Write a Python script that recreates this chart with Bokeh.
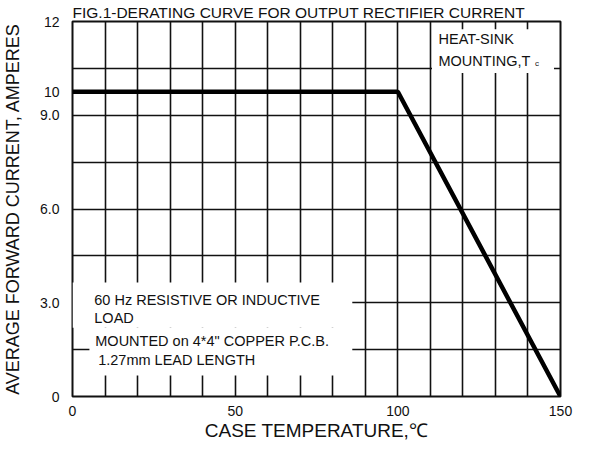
from bokeh.plotting import figure
from bokeh.models import FixedTicker, Label, Range1d
from bokeh.embed import file_html
from bokeh.resources import INLINE

# ---- data ----
temperature = [0, 100, 150]            # case temperature, deg C
current = [9.75, 9.75, 0]              # amperes (flat segment sits on the "10" tick mark)
x_ticks = [0, 50, 100, 150]
x_tick_labels = ["0", "50", "100", "150"]
y_ticks = [0, 3, 6, 9, 9.75, 12]
y_tick_labels = ["0", "3.0", "6.0", "9.0", "10", "12"]
x_grid = [0, 10, 20, 30, 40, 50, 60, 70, 80, 90, 100, 110, 120, 130, 140, 150]
y_grid = [0, 1.5, 3, 4.5, 6, 7.5, 9, 10.5, 12]

FONT = "Liberation Sans"

p = figure(width=581, height=443, output_backend="svg", toolbar_location=None,
           x_range=Range1d(0, 150), y_range=Range1d(0, 12),
           title="FIG.1-DERATING CURVE FOR OUTPUT RECTIFIER CURRENT",
           x_axis_label="CASE TEMPERATURE,℃",
           y_axis_label="AVERAGE FORWARD CURRENT, AMPERES",
           min_border_left=72, min_border_right=21, min_border_top=20, min_border_bottom=47)
p.background_fill_color = "white"
p.border_fill_color = "white"
p.outline_line_color = "#111111"
p.outline_line_width = 2

p.title.text_font = FONT
p.title.text_font_size = "15.5px"
p.title.text_font_style = "normal"
p.title.text_color = "#111111"
p.title.align = "left"
p.title.standoff = 2

# grids
p.xgrid.ticker = FixedTicker(ticks=x_grid)
p.ygrid.ticker = FixedTicker(ticks=y_grid)
for g in (p.xgrid, p.ygrid):
    g.grid_line_color = "#111111"
    g.grid_line_width = 1.6
    g.grid_line_alpha = 1.0

# axes
p.xaxis.ticker = FixedTicker(ticks=x_ticks)
p.xaxis.major_label_overrides = {float(t): l for t, l in zip(x_ticks, x_tick_labels)}
p.yaxis.ticker = FixedTicker(ticks=y_ticks)
p.yaxis.major_label_overrides = {float(t): l for t, l in zip(y_ticks, y_tick_labels)}
for ax in (p.xaxis, p.yaxis):
    ax.axis_line_color = None
    ax.major_tick_line_color = None
    ax.minor_tick_line_color = None
    ax.major_tick_out = 0
    ax.major_tick_in = 0
    ax.major_label_text_font = FONT
    ax.major_label_text_font_size = "14px"
    ax.major_label_text_color = "#111111"
    ax.axis_label_text_font = FONT
    ax.axis_label_text_font_style = "normal"
    ax.axis_label_text_color = "#111111"
p.xaxis.axis_label_text_font_size = "19px"
p.yaxis.axis_label_text_font_size = "18px"
p.xaxis.major_label_text_align = "left"
p.xaxis.major_label_standoff = 9
p.xaxis.axis_label_standoff = 1
p.yaxis.major_label_standoff = 13
p.yaxis.axis_label_standoff = 14

# white note boxes over the grid
p.quad(left=[0, 5.2, 110.5], right=[86, 86, 148], bottom=[2.2, 0.67, 10.35], top=[3.65, 2.2, 11.75],
       fill_color="white", line_color=None)

# derating curve
p.line(temperature, current, line_color="black", line_width=4.5)

def note(x, y, text, size="14.5px"):
    p.add_layout(Label(x=x, y=y, text=text, text_font=FONT, text_font_size=size,
                       text_color="#111111", text_baseline="middle", text_align="left"))

note(112.5, 11.43, "HEAT-SINK")
note(112.5, 10.73, "MOUNTING,T")
note(142.2, 10.66, "c", size="8px")
note(6.7, 3.08, "60 Hz RESISTIVE OR INDUCTIVE")
note(6.7, 2.51, "LOAD")
note(7.0, 1.79, "MOUNTED on 4*4\" COPPER P.C.B.")
note(7.9, 1.17, "1.27mm LEAD LENGTH")

open("out.html", "w").write(file_html(p, INLINE))
